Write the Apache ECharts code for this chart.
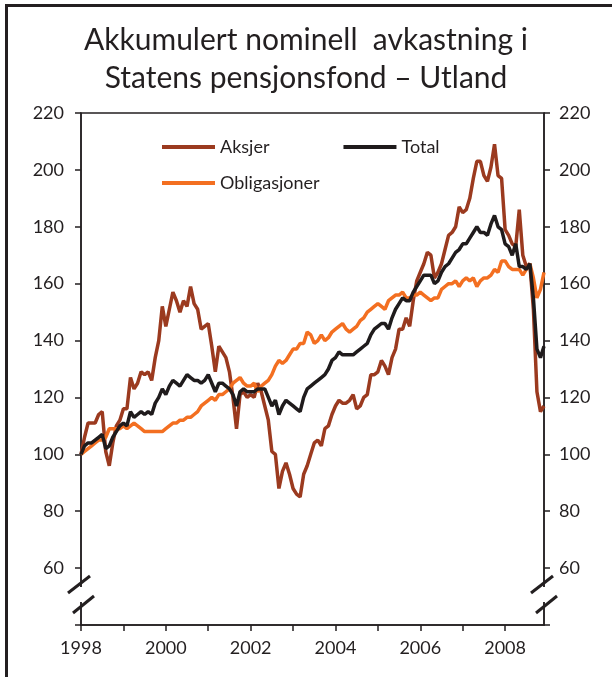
<!DOCTYPE html>
<html lang="no">
<head>
    <meta charset="UTF-8">
    <title>Akkumulert nominell avkastning</title>
    <script src="https://cdn.jsdelivr.net/npm/echarts@6/dist/echarts.min.js"></script>
    <style>
        html, body { margin: 0; padding: 0; background: #fff; }
    </style>
</head>
<body>
<div id="main" style="width: 612px;height:677px;"></div>
<script type="text/javascript">

    // monthly, Jan 1998 - Dec 2008 (index 100 = start)
    var years = [1998, 1999, 2000, 2001, 2002, 2003, 2004, 2005, 2006, 2007, 2008];
    var months = [];
    for (var i = 0; i < years.length; i++) {
        for (var m = 1; m <= 12; m++) {
            months.push(years[i] + '-' + (m < 10 ? '0' + m : m));
        }
    }

    var aksjer = [
        100, 106, 111, 111, 111, 114, 115, 101, 96, 104, 110, 112,
        116, 116, 127, 123, 125, 129, 128, 129, 126, 134, 140, 152,
        145, 151, 157, 154, 150, 154, 152, 159, 153, 151, 144, 145,
        146, 138, 129, 138, 136, 134, 129, 120, 109, 121, 122, 120,
        121, 120, 125, 122, 117, 112, 101, 100, 88, 94, 97, 93,
        88, 86, 85, 93, 96, 100, 104, 105, 103, 109, 110, 114,
        117, 119, 118, 118, 119, 121, 116, 117, 120, 121, 128, 128,
        129, 133, 131, 128, 134, 137, 144, 144, 148, 145, 154, 161,
        164, 167, 171, 170, 162, 164, 167, 172, 177, 178, 180, 187,
        185, 186, 190, 197, 203, 203, 198, 196, 201, 209, 198, 197,
        179, 177, 174, 173, 186, 170, 166, 167, 151, 122, 115, 117
    ];

    var total = [
        100, 103, 104, 104, 105, 106, 107, 102, 103, 106, 108, 110,
        111, 110, 115, 113, 114, 115, 114, 115, 114, 118, 120, 123,
        121, 124, 126, 125, 124, 126, 128, 127, 126, 126, 125, 126,
        128, 125, 122, 125, 125, 124, 123, 121, 117, 122, 123, 122,
        122, 122, 123, 123, 123, 120, 117, 119, 114, 117, 119, 118,
        117, 116, 115, 120, 123, 124, 125, 126, 127, 128, 130, 133,
        134, 136, 135, 135, 135, 135, 136, 137, 138, 139, 142, 144,
        145, 146, 146, 144, 148, 151, 153, 155, 154, 154, 157, 159,
        161, 163, 163, 163, 160, 161, 164, 166, 167, 169, 171, 172,
        174, 174, 176, 178, 180, 178, 178, 177, 181, 184, 180, 179,
        174, 173, 170, 174, 166, 166, 165, 167, 155, 137, 134, 138
    ];

    var obligasjoner = [
        100, 101, 102, 103, 104, 105, 105, 106, 109, 109, 109, 109,
        110, 109, 110, 111, 110, 109, 108, 108, 108, 108, 108, 108,
        109, 110, 111, 111, 112, 112, 113, 113, 114, 115, 117, 118,
        119, 120, 119, 121, 121, 122, 123, 125, 126, 127, 125, 124,
        124, 125, 122, 124, 125, 126, 128, 131, 133, 132, 133, 135,
        137, 137, 139, 139, 143, 142, 139, 140, 142, 140, 141, 143,
        144, 145, 146, 144, 143, 144, 145, 147, 148, 150, 151, 152,
        153, 152, 151, 154, 155, 156, 156, 157, 155, 155, 156, 156,
        157, 156, 155, 154, 155, 155, 158, 159, 160, 160, 161, 159,
        161, 162, 161, 162, 159, 161, 162, 162, 163, 165, 164, 168,
        168, 166, 165, 165, 165, 163, 165, 167, 162, 155, 158, 164
    ];

    var yTicks = [60, 80, 100, 120, 140, 160, 180, 200, 220];

    var ink = '#231F20';
    var font = 'Lato';

    var myChart = echarts.init(document.getElementById('main'));

    function yLabel(v) {
        return yTicks.indexOf(v) >= 0 ? String(v) : '';
    }

    var yCommon = {
        type: 'value',
        min: 40,
        max: 220,
        interval: 20,
        splitLine: {show: false},
        axisLine: {show: true, lineStyle: {color: ink, width: 1.5}},
        axisTick: {show: true, length: 6, lineStyle: {color: ink, width: 1.5}},
        axisLabel: {color: ink, fontSize: 18, fontFamily: font, formatter: yLabel}
    };

    option = {
        animation: false,
        backgroundColor: '#fff',
        title: {
            text: 'Akkumulert nominell  avkastning i\nStatens pensjonsfond – Utland',
            left: 'center',
            top: 16,
            textStyle: {
                color: ink,
                fontSize: 30,
                fontWeight: 'normal',
                fontFamily: font,
                lineHeight: 38
            }
        },
        legend: [
            {
                data: ['Aksjer', 'Total'],
                left: 157,
                top: 133,
                icon: 'rect',
                itemWidth: 53,
                itemHeight: 4,
                itemGap: 74,
                textStyle: {color: ink, fontSize: 18, fontFamily: font}
            },
            {
                data: ['Obligasjoner'],
                left: 157,
                top: 169,
                icon: 'rect',
                itemWidth: 53,
                itemHeight: 4,
                textStyle: {color: ink, fontSize: 18, fontFamily: font}
            }
        ],
        grid: {
            left: 81,
            right: 68,
            top: 113,
            bottom: 52,
            show: true,
            borderColor: ink,
            borderWidth: 1.5
        },
        xAxis: {
            type: 'category',
            data: months,
            boundaryGap: false,
            axisLine: {lineStyle: {color: ink, width: 1.5}},
            axisTick: {
                length: 6,
                lineStyle: {color: ink, width: 1.5},
                interval: function (idx) { return idx % 12 === 0; }
            },
            axisLabel: {
                color: ink,
                fontSize: 18,
                fontFamily: font,
                margin: 14,
                interval: function (idx) { return idx % 24 === 0; },
                formatter: function (v) { return v.slice(0, 4); }
            },
            splitLine: {show: false}
        },
        yAxis: [
            echarts.util.merge({position: 'left', axisLabel: {margin: 17}}, yCommon, true),
            echarts.util.merge({position: 'right', axisLabel: {margin: 15}}, yCommon, true)
        ],
        series: [
            {
                name: 'Aksjer',
                type: 'line',
                data: aksjer,
                showSymbol: false,
                color: '#9B3A1F',
                lineStyle: {width: 3.5}
            },
            {
                name: 'Obligasjoner',
                type: 'line',
                data: obligasjoner,
                showSymbol: false,
                color: '#F36F21',
                lineStyle: {width: 3.5}
            },
            {
                name: 'Total',
                type: 'line',
                data: total,
                showSymbol: false,
                color: '#1F1B1C',
                lineStyle: {width: 3.5}
            }
        ],
        graphic: [
            // outer frame (left and top)
            {type: 'line', shape: {x1: 6.5, y1: 5, x2: 6.5, y2: 677}, style: {stroke: ink, lineWidth: 3}, z: 100},
            {type: 'line', shape: {x1: 5, y1: 5.5, x2: 612, y2: 5.5}, style: {stroke: ink, lineWidth: 3}, z: 100},
            // axis breaks
            {type: 'rect', shape: {x: 75, y: 587, width: 12, height: 15}, style: {fill: '#fff'}, z: 100},
            {type: 'rect', shape: {x: 538, y: 587, width: 12, height: 15}, style: {fill: '#fff'}, z: 100},
            {type: 'line', shape: {x1: 68, y1: 593, x2: 90, y2: 576}, style: {stroke: ink, lineWidth: 3}, z: 101},
            {type: 'line', shape: {x1: 73, y1: 613, x2: 94, y2: 596}, style: {stroke: ink, lineWidth: 3}, z: 101},
            {type: 'line', shape: {x1: 531, y1: 593, x2: 553, y2: 576}, style: {stroke: ink, lineWidth: 3}, z: 101},
            {type: 'line', shape: {x1: 536, y1: 613, x2: 557, y2: 596}, style: {stroke: ink, lineWidth: 3}, z: 101}
        ]
    };
    myChart.setOption(option);

</script>
</body>
</html>
